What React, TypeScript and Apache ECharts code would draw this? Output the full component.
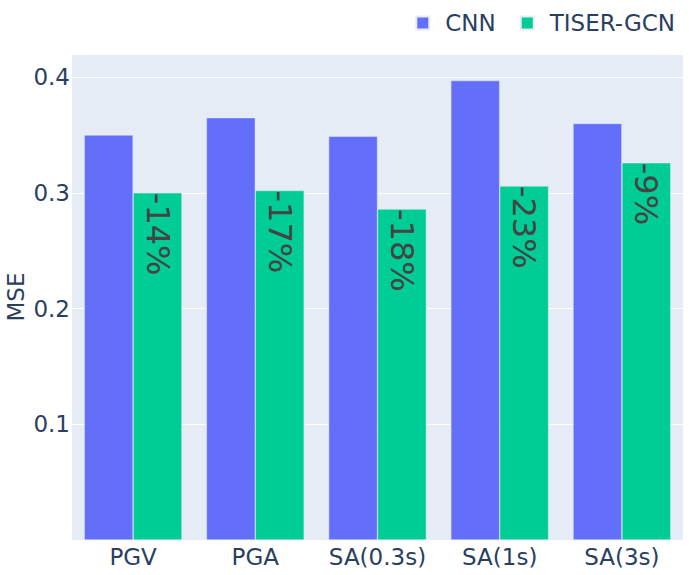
import React, { useEffect, useRef } from "react";
import * as echarts from "echarts";

const categories = ["PGV", "PGA", "SA(0.3s)", "SA(1s)", "SA(3s)"];
const cnnValues = [0.35, 0.365, 0.349, 0.397, 0.36];
const tiserValues = [0.3, 0.302, 0.286, 0.306, 0.326];
const changeLabels = ["-14%", "-17%", "-18%", "-23%", "-9%"];
const yTicks = [0.1, 0.2, 0.3, 0.4];

const FONT = "DejaVu Sans";
const TEXT = "#2a3f5f";
const FS = 23;

export default function App() {
  const ref = useRef<HTMLDivElement>(null);
  useEffect(() => {
    if (!ref.current) return;
    const chart = echarts.init(ref.current, null, { renderer: "svg" });
    chart.setOption({
      animation: false,
      textStyle: { fontFamily: FONT },
      legend: {
        right: 9,
        top: 5,
        icon: "rect",
        itemWidth: 13,
        itemHeight: 13,
        itemGap: 24,
        textStyle: {
          fontFamily: FONT,
          fontSize: FS,
          color: TEXT,
          lineHeight: 26,
          padding: [0, 0, 0, 11],
        },
        data: ["CNN", "TISER-GCN"],
      },
      grid: {
        left: 72,
        right: 6,
        top: 54,
        bottom: 35,
        containLabel: false,
        outerBoundsMode: "none",
        show: true,
        backgroundColor: "#E5ECF6",
        borderWidth: 0,
      },
      xAxis: {
        type: "category",
        data: categories,
        axisLine: { show: false },
        axisTick: { show: false },
        axisLabel: {
          interval: 0,
          fontFamily: FONT,
          fontSize: FS,
          color: TEXT,
          margin: 5,
        },
      },
      yAxis: {
        type: "value",
        min: 0,
        max: 0.42,
        interval: 0.1,
        name: "MSE",
        nameLocation: "middle",
        nameGap: 45,
        nameMoveOverlap: false,
        nameTextStyle: { fontFamily: FONT, fontSize: FS, color: TEXT },
        axisLine: { show: false },
        axisTick: { show: false },
        splitLine: { lineStyle: { color: "#ffffff", width: 1 } },
        axisLabel: {
          fontFamily: FONT,
          fontSize: FS,
          color: TEXT,
          margin: 2,
          formatter: (v: number) => {
            const t = yTicks.find((y) => Math.abs(y - v) < 1e-6);
            return t !== undefined ? t.toFixed(1) : "";
          },
        },
      },
      series: [
        {
          name: "CNN",
          type: "bar",
          data: cnnValues,
          barGap: "0%",
          barCategoryGap: "20%",
          itemStyle: { color: "#636efa", borderColor: "#E5ECF6", borderWidth: 0.5 },
        },
        {
          name: "TISER-GCN",
          type: "bar",
          data: tiserValues,
          barGap: "0%",
          barCategoryGap: "20%",
          itemStyle: { color: "#00cc96", borderColor: "#E5ECF6", borderWidth: 0.5 },
          label: {
            show: true,
            position: "insideTop",
            rotate: -90,
            align: "left",
            verticalAlign: "middle",
            distance: 0,
            fontFamily: FONT,
            fontSize: 32,
            color: "#444444",
            formatter: (p: any) => changeLabels[p.dataIndex],
          },
        },
      ],
    });
    return () => chart.dispose();
  }, []);
  return <div ref={ref} style={{ width: 689, height: 575, position: "absolute", left: 0, top: 0 }} />;
}
